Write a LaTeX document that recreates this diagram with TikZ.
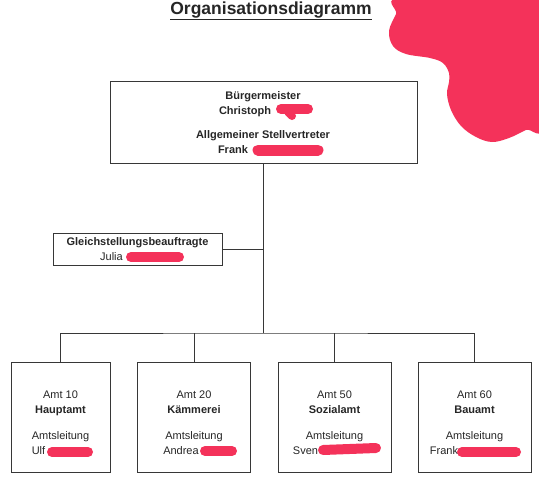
\documentclass[tikz,border=0pt]{standalone}
\usepackage{fontspec}
\setmainfont{Liberation Sans}
\usepackage{tikz}
\usetikzlibrary{positioning,calc}
\definecolor{redpen}{RGB}{244,50,90}
\definecolor{linegray}{RGB}{55,55,55}

\begin{document}
\begin{tikzpicture}[x=1pt,y=-1pt,
    box/.style={draw=linegray, line width=0.9pt, fill=white},
    boxtext/.style={align=center, text=black!85, font=\fontsize{11}{15}\selectfont},
    amtbox/.style={box, minimum width=113pt, minimum height=110pt},
    link/.style={draw=linegray, line width=0.9pt},
    scribble/.style={draw=redpen, line width=10pt, line cap=round}]
    \useasboundingbox (0,0) rectangle (539,480);

    % Title
    \node[anchor=base, text=black!85, font=\fontsize{17.5}{20}\selectfont\bfseries] (title) at (271,14) {\underline{Organisationsdiagramm}};

    % Redaction blob (top right)
    \begin{scope}
        \clip (0,0) rectangle (539,480);
        \fill[redpen] plot[smooth cycle, tension=0.6] coordinates {(404,-4) (396,14) (389,31) (393,46) (406,54) (430,58) (443,63) (449,73) (449,82) (447,94) (451,110) (461,126) (476,137) (492,142) (509,138) (526,130) (545,122) (545,-4)};
    \end{scope}

    % Buergermeister
    \node[box, minimum width=307pt, minimum height=82pt] (mayor) at (263.5,122) {};
    \node[boxtext] (mayortext) at (263,123) {\textbf{Bürgermeister}\\\textbf{Christoph}\rule{36pt}{0pt}\\[9pt]\textbf{Allgemeiner Stellvertreter}\\\textbf{Frank}\rule{60pt}{0pt}};

    % Gleichstellungsbeauftragte
    \node[box, minimum width=169pt, minimum height=32pt] (equal) at (137.5,249) {};
    \node[boxtext] (equaltext) at (137.5,249) {\textbf{Gleichstellungsbeauftragte}\\Julia\rule{52pt}{0pt}};

    % Aemter
    \node[amtbox, minimum width=99pt] (amt10) at (60.5,417) {};
    \node[amtbox] (amt20) at (194,417) {};
    \node[amtbox] (amt50) at (334.5,417) {};
    \node[amtbox] (amt60) at (474.5,417) {};
    \node[boxtext] (amt10text) at (60.5,423) {Amt 10\\\textbf{Hauptamt}\\[11pt]Amtsleitung\\Ulf\rule{44pt}{0pt}};
    \node[boxtext] (amt20text) at (194,423) {Amt 20\\\textbf{Kämmerei}\\[11pt]Amtsleitung\\Andrea\rule{26pt}{0pt}};
    \node[boxtext] (amt50text) at (334.5,423) {Amt 50\\\textbf{Sozialamt}\\[11pt]Amtsleitung\\Sven\rule{58pt}{0pt}};
    \node[boxtext] (amt60text) at (474.5,423) {Amt 60\\\textbf{Bauamt}\\[11pt]Amtsleitung\\Frank\rule{61pt}{0pt}};

    % Lines
    \coordinate (bus) at (263.5,333);
    \draw[link] (mayor.south) -- (bus);
    \draw[link] (equal.east) -- (equal.east -| mayor.south);
    \draw[link] (amt10.north) |- (bus) -| (amt60.north);
    \draw[link] (amt20.north) -- (amt20.north |- bus);
    \draw[link] (amt50.north) -- (amt50.north |- bus);

    % Redacted names
    \draw[scribble] (281,109) -- (308,109);
    \draw[scribble, line width=8pt] (288,112) -- (292,116);
    \draw[scribble, line width=11pt] (258,150) -- (318,150);
    \draw[scribble] (131,257) -- (179,257);
    \draw[scribble] (52,452) -- (88,452);
    \draw[scribble] (205,451) -- (232,451);
    \draw[scribble] (323,450) -- (376,448);
    \draw[scribble] (462,452) -- (516,452);
\end{tikzpicture}
\end{document}
